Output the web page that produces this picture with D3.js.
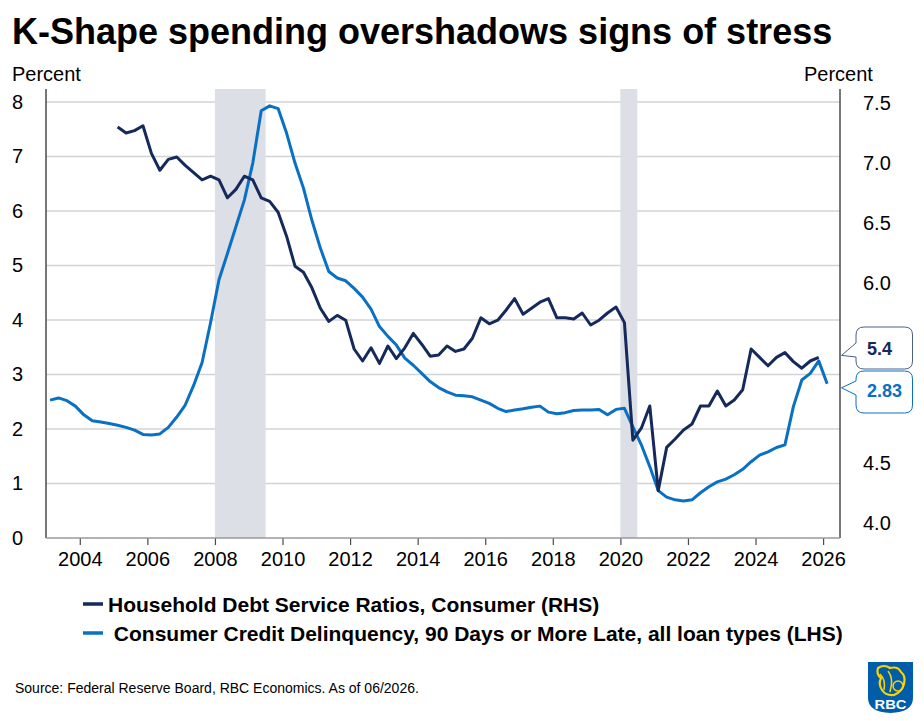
<!DOCTYPE html>
<html>
<head>
<meta charset="utf-8">
<script src="https://cdn.jsdelivr.net/npm/d3@7"></script>
<style>
  html, body { margin: 0; padding: 0; background: #fff; }
  svg { display: block; font-family: "Liberation Sans", Arial, sans-serif; }
</style>
</head>
<body>
<svg id="chart" width="924" height="721"></svg>
<script>
// ---------------- DATA ----------------
const titleText = "K-Shape spending overshadows signs of stress";
const sourceText = "Source: Federal Reserve Board, RBC Economics. As of 06/2026.";

// Quarters of the delinquency series (LHS)
const delinqQuarters = [
  "2003Q1","2003Q2","2003Q3","2003Q4","2004Q1","2004Q2","2004Q3","2004Q4",
  "2005Q1","2005Q2","2005Q3","2005Q4","2006Q1","2006Q2","2006Q3","2006Q4",
  "2007Q1","2007Q2","2007Q3","2007Q4","2008Q1","2008Q2","2008Q3","2008Q4",
  "2009Q1","2009Q2","2009Q3","2009Q4","2010Q1","2010Q2","2010Q3","2010Q4",
  "2011Q1","2011Q2","2011Q3","2011Q4","2012Q1","2012Q2","2012Q3","2012Q4",
  "2013Q1","2013Q2","2013Q3","2013Q4","2014Q1","2014Q2","2014Q3","2014Q4",
  "2015Q1","2015Q2","2015Q3","2015Q4","2016Q1","2016Q2","2016Q3","2016Q4",
  "2017Q1","2017Q2","2017Q3","2017Q4","2018Q1","2018Q2","2018Q3","2018Q4",
  "2019Q1","2019Q2","2019Q3","2019Q4","2020Q1","2020Q2","2020Q3","2020Q4",
  "2021Q1","2021Q2","2021Q3","2021Q4","2022Q1","2022Q2","2022Q3","2022Q4",
  "2023Q1","2023Q2","2023Q3","2023Q4","2024Q1","2024Q2","2024Q3","2024Q4",
  "2025Q1","2025Q2","2025Q3","2025Q4","2026Q1"
];
// Consumer Credit Delinquency, 90+ days late (percent, LHS)
const delinqValues = [
  2.53, 2.57, 2.52, 2.42, 2.26, 2.15, 2.13, 2.10,
  2.07, 2.03, 1.98, 1.90, 1.89, 1.91, 2.03, 2.22,
  2.44, 2.80, 3.22, 3.95, 4.74, 5.22, 5.71, 6.20,
  6.88, 7.84, 7.93, 7.88, 7.43, 6.88, 6.42, 5.83,
  5.32, 4.89, 4.77, 4.72, 4.58, 4.42, 4.20, 3.88,
  3.70, 3.54, 3.30, 3.17, 3.02, 2.87, 2.76, 2.68,
  2.62, 2.61, 2.59, 2.53, 2.47, 2.38, 2.32, 2.35,
  2.37, 2.40, 2.42, 2.31, 2.28, 2.30, 2.34, 2.35,
  2.35, 2.36, 2.26, 2.36, 2.38, 2.04, 1.71, 1.31,
  0.87, 0.75, 0.70, 0.68, 0.70, 0.83, 0.94, 1.03,
  1.08, 1.16, 1.26, 1.40, 1.52, 1.58, 1.66, 1.71,
  2.41, 2.90, 3.02, 3.25, 2.83
];

// Quarters of the debt service ratio series (RHS)
const dsrQuarters = [
  "2005Q1","2005Q2","2005Q3","2005Q4","2006Q1","2006Q2","2006Q3","2006Q4",
  "2007Q1","2007Q2","2007Q3","2007Q4","2008Q1","2008Q2","2008Q3","2008Q4",
  "2009Q1","2009Q2","2009Q3","2009Q4","2010Q1","2010Q2","2010Q3","2010Q4",
  "2011Q1","2011Q2","2011Q3","2011Q4","2012Q1","2012Q2","2012Q3","2012Q4",
  "2013Q1","2013Q2","2013Q3","2013Q4","2014Q1","2014Q2","2014Q3","2014Q4",
  "2015Q1","2015Q2","2015Q3","2015Q4","2016Q1","2016Q2","2016Q3","2016Q4",
  "2017Q1","2017Q2","2017Q3","2017Q4","2018Q1","2018Q2","2018Q3","2018Q4",
  "2019Q1","2019Q2","2019Q3","2019Q4","2020Q1","2020Q2","2020Q3","2020Q4",
  "2021Q1","2021Q2","2021Q3","2021Q4","2022Q1","2022Q2","2022Q3","2022Q4",
  "2023Q1","2023Q2","2023Q3","2023Q4","2024Q1","2024Q2","2024Q3","2024Q4",
  "2025Q1","2025Q2","2025Q3","2025Q4"
];
// Household Debt Service Ratios, Consumer (percent, RHS)
const dsrValues = [
  7.30, 7.25, 7.27, 7.31, 7.08, 6.94, 7.03, 7.05,
  6.98, 6.92, 6.86, 6.89, 6.86, 6.71, 6.78, 6.89,
  6.86, 6.71, 6.68, 6.59, 6.39, 6.14, 6.09, 5.96,
  5.79, 5.68, 5.73, 5.69, 5.45, 5.35, 5.46, 5.33,
  5.475, 5.37, 5.46, 5.58, 5.49, 5.39, 5.40, 5.475,
  5.43, 5.45, 5.54, 5.71, 5.66, 5.69, 5.775, 5.87,
  5.74, 5.79, 5.84, 5.87, 5.71, 5.71, 5.70, 5.75,
  5.65, 5.69, 5.75, 5.80, 5.67, 4.69, 4.79, 4.975,
  4.27, 4.63, 4.70, 4.775, 4.825, 4.975, 4.975, 5.10,
  4.975, 5.025, 5.11, 5.45, 5.38, 5.31, 5.38, 5.42,
  5.345, 5.29, 5.35, 5.38
];

// Recessions (decimal years: start, end)
const recessionStarts = [2008.0, 2020.0];
const recessionEnds   = [2009.5, 2020.5];

// Axis ticks (right-axis 5.0 and 5.5 are hidden behind the callouts in the original)
const xTickYears = [2004, 2006, 2008, 2010, 2012, 2014, 2016, 2018, 2020, 2022, 2024, 2026];
const leftTicks  = [0, 1, 2, 3, 4, 5, 6, 7, 8];
const rightTicks = [4.0, 4.5, 6.0, 6.5, 7.0, 7.5];

const seriesNames = [
  "Household Debt Service Ratios, Consumer (RHS)",
  " Consumer Credit Delinquency, 90 Days or More Late, all loan types (LHS)"
];
const calloutLabels = ["5.4", "2.83"];

// ---------------- STYLE ----------------
const NAVY = "#15295B";
const BLUE = "#0A70C4";
const BAND = "#DCDFE6";
const GRID = "#D3D3D3";
const AXIS = "#4A4A4A";

// ---------------- LAYOUT ----------------
const plot = { left: 46, right: 840, top: 89, bottom: 538 };

const svg = d3.select("#chart");
svg.append("rect").attr("width", 924).attr("height", 721).attr("fill", "#fff");

const x = d3.scaleLinear().domain([2003.0, 2026.5]).range([plot.left, plot.right]);
const yL = d3.scaleLinear().domain([0, 8.239]).range([plot.bottom, plot.top]);
const yR = d3.scaleLinear().domain([3.875, 7.6167]).range([plot.bottom, plot.top]);

function qToYear(q) {
  const yr = +q.slice(0, 4);
  const qq = +q.slice(5);
  return yr + 0.12 + (qq - 1) * 0.25;
}

const delinq = delinqQuarters.map((q, i) => ({ t: qToYear(q), v: delinqValues[i] }));
const dsr = dsrQuarters.map((q, i) => ({ t: qToYear(q), v: dsrValues[i] }));

// Title
svg.append("text")
  .attr("x", 12).attr("y", 44)
  .attr("font-size", 36).attr("font-weight", "bold").attr("fill", "#000")
  .text(titleText);

// Axis titles
svg.append("text").attr("x", 12).attr("y", 81).attr("font-size", 20).attr("fill", "#000").text("Percent");
svg.append("text").attr("x", 804).attr("y", 81).attr("font-size", 20).attr("fill", "#000").text("Percent");

// Gridlines (left axis)
const gGrid = svg.append("g");
gGrid.selectAll("line").data(leftTicks.filter(d => d > 0)).join("line")
  .attr("x1", plot.left).attr("x2", plot.right)
  .attr("y1", d => yL(d)).attr("y2", d => yL(d))
  .attr("stroke", GRID).attr("stroke-width", 1.5);

// Recession bands
svg.append("g").selectAll("rect").data(recessionStarts).join("rect")
  .attr("x", (d) => x(d))
  .attr("width", (d, i) => x(recessionEnds[i]) - x(d))
  .attr("y", plot.top).attr("height", plot.bottom - plot.top)
  .attr("fill", BAND);

// Left axis
const leftAxis = d3.axisLeft(yL).tickValues(leftTicks).tickSize(0).tickFormat(d3.format("d"));
const gL = svg.append("g").attr("transform", `translate(${plot.left},0)`).call(leftAxis);
gL.select(".domain").remove();
gL.selectAll("text").attr("x", -23).attr("font-size", 20).attr("fill", "#000")
  .attr("font-family", "Liberation Sans, Arial, sans-serif");
svg.append("line").attr("x1", plot.left).attr("x2", plot.left).attr("y1", plot.top).attr("y2", plot.bottom)
  .attr("stroke", AXIS).attr("stroke-width", 1.5);

// Right axis
const rightAxis = d3.axisRight(yR).tickValues(rightTicks).tickSize(0).tickFormat(d3.format(".1f"));
const gR = svg.append("g").attr("transform", `translate(${plot.right},0)`).call(rightAxis);
gR.select(".domain").remove();
gR.selectAll("text").attr("x", 23).attr("font-size", 20).attr("fill", "#000")
  .attr("font-family", "Liberation Sans, Arial, sans-serif");
svg.append("line").attr("x1", plot.right).attr("x2", plot.right).attr("y1", plot.top).attr("y2", plot.bottom)
  .attr("stroke", AXIS).attr("stroke-width", 1.5);

// Bottom axis
const bottomAxis = d3.axisBottom(x).tickValues(xTickYears).tickSize(7).tickFormat(d3.format("d"));
const gB = svg.append("g").attr("transform", `translate(0,${plot.bottom})`).call(bottomAxis);
gB.select(".domain").remove();
gB.selectAll(".tick line").attr("stroke", AXIS).attr("stroke-width", 1.2);
gB.selectAll("text").attr("y", 14).attr("dy", "0.71em").attr("font-size", 20).attr("fill", "#000")
  .attr("font-family", "Liberation Sans, Arial, sans-serif");
svg.append("line").attr("x1", plot.left).attr("x2", plot.right).attr("y1", plot.bottom).attr("y2", plot.bottom)
  .attr("stroke", "#9A9A9A").attr("stroke-width", 1.5);

// Lines
const lineL = d3.line().x(d => x(d.t)).y(d => yL(d.v));
const lineR = d3.line().x(d => x(d.t)).y(d => yR(d.v));

svg.append("path").datum(delinq).attr("d", lineL)
  .attr("fill", "none").attr("stroke", BLUE).attr("stroke-width", 3).attr("stroke-linejoin", "round");
svg.append("path").datum(dsr).attr("d", lineR)
  .attr("fill", "none").attr("stroke", NAVY).attr("stroke-width", 3).attr("stroke-linejoin", "round");

// Callouts
function bubble(x0, y0, x1, y1, r, tipX, tipY, b0, b1) {
  return `M${x0 + r},${y0} H${x1 - r} Q${x1},${y0} ${x1},${y0 + r} V${y1 - r} Q${x1},${y1} ${x1 - r},${y1}` +
         ` H${x0 + r} Q${x0},${y1} ${x0},${y1 - r} V${b1} L${tipX},${tipY} L${x0},${b0} V${y0 + r} Q${x0},${y0} ${x0 + r},${y0} Z`;
}
const lastDsr = dsr[dsr.length - 1];
const lastDel = delinq[delinq.length - 1];
const tip1 = yR(lastDsr.v) - 2;
const tip2 = yL(lastDel.v) + 4;
svg.append("path").attr("d", bubble(856, 327, 912.5, 369, 8, 841.5, tip1, 343, 357))
  .attr("fill", "#fff").attr("stroke", "#4C5F86").attr("stroke-width", 1);
svg.append("text").attr("x", 867).attr("y", 355).attr("font-size", 18).attr("font-weight", "bold")
  .attr("fill", NAVY).text(calloutLabels[0]);
svg.append("path").attr("d", bubble(856, 371, 912.5, 413, 8, 841.5, tip2, 381, 395))
  .attr("fill", "#fff").attr("stroke", BLUE).attr("stroke-width", 1);
svg.append("text").attr("x", 867).attr("y", 397).attr("font-size", 18).attr("font-weight", "bold")
  .attr("fill", BLUE).text(calloutLabels[1]);

// Legend
const legendColors = [NAVY, BLUE];
const legendY = [604, 633];
const legendX = [108, 108];
seriesNames.forEach((name, i) => {
  svg.append("line").attr("x1", 83).attr("x2", 103).attr("y1", legendY[i]).attr("y2", legendY[i])
    .attr("stroke", legendColors[i]).attr("stroke-width", 3.5);
  svg.append("text").attr("x", legendX[i]).attr("y", legendY[i] + 7.5)
    .attr("font-size", 21).attr("font-weight", "bold").attr("fill", "#000")
    .attr("xml:space", "preserve").style("white-space", "pre")
    .text(name);
});

// Source
svg.append("text").attr("x", 15).attr("y", 693).attr("font-size", 14).attr("fill", "#000").text(sourceText);

// RBC logo (simplified)
const logo = svg.append("g").attr("transform", "translate(868,662)");
logo.append("path")
  .attr("d", "M0,0 H45 V36 Q45,50 22.5,51 Q0,50 0,36 Z")
  .attr("fill", "#005DAA");
logo.append("path")
  .attr("d", "M10,6 Q16,2 22,6 Q30,4 33,10 Q38,14 36,22 Q34,30 26,33 Q18,34 14,28 Q10,22 13,16 Q8,12 10,6 Z")
  .attr("fill", "none").attr("stroke", "#FFD200").attr("stroke-width", 2.2);
logo.append("circle").attr("cx", 30).attr("cy", 24).attr("r", 5).attr("fill", "none").attr("stroke", "#FFD200").attr("stroke-width", 1.5);
logo.append("path").attr("d", "M12,12 Q18,18 16,28 M20,9 Q26,16 22,30").attr("fill", "none").attr("stroke", "#FFD200").attr("stroke-width", 1.5);
logo.append("text").attr("x", 22.5).attr("y", 47).attr("text-anchor", "middle")
  .attr("font-size", 13).attr("font-weight", "bold").attr("fill", "#fff")
  .attr("font-family", "Liberation Sans Narrow, Liberation Sans, Arial, sans-serif")
  .attr("textLength", 32).attr("lengthAdjust", "spacingAndGlyphs").text("RBC");
</script>
</body>
</html>
